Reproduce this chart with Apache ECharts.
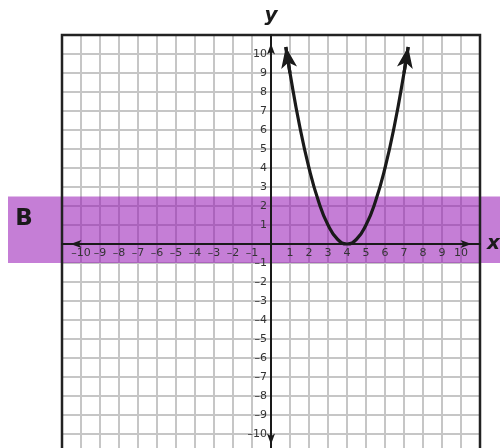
<!DOCTYPE html>
<html>
<head>
<meta charset="utf-8">
<script src="https://cdn.jsdelivr.net/npm/echarts@6/dist/echarts.min.js"></script>
<style>
  html, body { margin: 0; padding: 0; background: #fff; }
  #chart { width: 500px; height: 448px; }
</style>
</head>
<body>
<div id="chart"></div>
<script>
// axis range and labelled ticks
const axisMin = -11;
const axisMax = 11;
const tickValues = [-10, -9, -8, -7, -6, -5, -4, -3, -2, -1, 1, 2, 3, 4, 5, 6, 7, 8, 9, 10];

// the parabola
const curveX = [0.78, 1, 1.5, 2, 2.5, 3, 3.5, 4, 4.5, 5, 5.5, 6, 6.5, 7, 7.22];
const curveY = [10.37, 9, 6.25, 4, 2.25, 1, 0.25, 0, 0.25, 1, 2.25, 4, 6.25, 9, 10.37];

// highlighted band
const bandY = [-1, 2.5];
const bandLabel = 'B';

const font = 'DejaVu Sans';

function tickLabel(v) {
  if (tickValues.indexOf(v) < 0) return '';
  return v < 0 ? '\u2013' + Math.abs(v) : String(v);
}

const curveData = curveX.map((x, i) => [x, curveY[i]]);
const n = curveData.length;
const arrowData = [
  {coords: [curveData[1], curveData[0]]},
  {coords: [curveData[n - 2], curveData[n - 1]]}
];

let chartDom = document.getElementById('chart');
let chart = echarts.init(chartDom, null, {renderer: 'canvas'});

const gridAxis = {
  type: 'value',
  min: axisMin,
  max: axisMax,
  interval: 1,
  gridIndex: 0,
  z: 0,
  axisLine: {show: false},
  axisTick: {show: false},
  axisLabel: {show: false},
  splitLine: {
    show: true,
    lineStyle: {color: '#c6c6c6', width: 2}
  }
};

function labelAxis(extra) {
  return echarts.util.merge({
    type: 'value',
    min: axisMin,
    max: axisMax,
    interval: 1,
    gridIndex: 0,
    z: 3,
    splitLine: {show: false},
    axisTick: {show: false},
    axisLine: {
      show: true,
      onZero: false,
      symbol: ['arrow', 'arrow'],
      symbolSize: [6, 11],
      symbolOffset: [8.5, -8.5],
      lineStyle: {color: '#1a1a1a', width: 2}
    },
    axisLabel: {
      show: true,
      formatter: tickLabel,
      fontFamily: font,
      fontSize: 11,
      color: '#333',
      margin: 4
    },
    nameLocation: 'end',
    nameTextStyle: {
      fontFamily: font,
      fontSize: 20,
      fontWeight: 'bold',
      fontStyle: 'italic',
      color: '#1a1a1a'
    }
  }, extra, true);
}

let option = {
  animation: false,
  grid: {
    left: 62,
    top: 35,
    width: 418,
    height: 418,
    show: false,
    outerBoundsMode: 'none',
    containLabel: false
  },
  xAxis: [
    Object.assign({}, gridAxis, {position: 'top'}),
    labelAxis({position: 'bottom', name: 'x', nameGap: 7})
  ],
  yAxis: [
    Object.assign({}, gridAxis, {position: 'right'}),
    labelAxis({position: 'left', name: 'y', nameGap: 9})
  ],
  series: [
    {
      type: 'line',
      xAxisIndex: 1,
      yAxisIndex: 1,
      z: 4,
      data: curveData,
      smooth: true,
      showSymbol: false,
      symbol: 'none',
      lineStyle: {color: '#1a1a1a', width: 3.2}
    },
    {
      type: 'lines',
      coordinateSystem: 'cartesian2d',
      xAxisIndex: 1,
      yAxisIndex: 1,
      z: 4,
      symbol: ['none', 'arrow'],
      symbolSize: [10, [12, 21]],
      lineStyle: {color: '#1a1a1a', width: 3.2, opacity: 1},
      data: arrowData
    }
  ]
};

chart.setOption(option);

// positions through the axis scales
const zeroX = chart.convertToPixel({xAxisIndex: 0}, 0);
const zeroY = chart.convertToPixel({yAxisIndex: 0}, 0);
const bandTop = chart.convertToPixel({yAxisIndex: 0}, bandY[1]);
const bandBottom = chart.convertToPixel({yAxisIndex: 0}, bandY[0]);
const frameLeft = chart.convertToPixel({xAxisIndex: 0}, axisMin);
const frameRight = chart.convertToPixel({xAxisIndex: 0}, axisMax);
const frameTop = chart.convertToPixel({yAxisIndex: 0}, axisMax);
const frameBottom = chart.convertToPixel({yAxisIndex: 0}, axisMin);

chart.setOption({
  // move the labelled axes onto the zero lines
  xAxis: [{}, {offset: zeroY - frameBottom}],
  yAxis: [{}, {offset: frameLeft - zeroX}],
  graphic: [
    {
      type: 'rect',
      z: 1,
      silent: true,
      shape: {x: 8, y: bandTop, width: 500 - 8, height: bandBottom - bandTop},
      style: {fill: 'rgba(150, 20, 180, 0.55)'}
    },
    {
      type: 'rect',
      z: 3,
      silent: true,
      shape: {x: frameLeft, y: frameTop, width: frameRight - frameLeft, height: frameBottom - frameTop},
      style: {fill: 'none', stroke: '#222', lineWidth: 2.5}
    },
    {
      type: 'text',
      z: 5,
      silent: true,
      style: {
        text: bandLabel,
        x: 24,
        y: (bandTop + bandBottom) / 2 - 11,
        align: 'center',
        verticalAlign: 'middle',
        fontFamily: font,
        fontSize: 23,
        fontWeight: 'bold',
        fill: '#1a1a1a'
      }
    }
  ]
});

window.addEventListener('resize', function () {
  chart.resize();
});
</script>
</body>
</html>
